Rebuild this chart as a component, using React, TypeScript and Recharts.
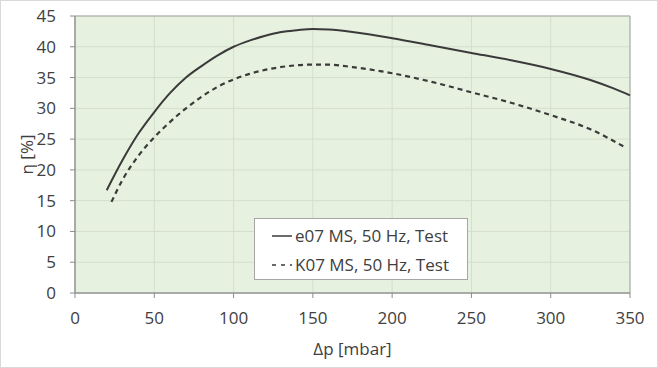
import {
  CartesianGrid,
  Legend,
  Line,
  LineChart,
  ReferenceArea,
  XAxis,
  YAxis,
} from "recharts";

// Δp [mbar] / η [%] for the two pumps
const e07Pressure = [20, 30, 40, 50, 60, 70, 80, 90, 100, 110, 120, 130, 140, 150, 160, 175, 200, 225, 250, 275, 300, 325, 340, 350];
const e07Efficiency = [16.7, 21.6, 25.9, 29.4, 32.5, 35.0, 36.9, 38.6, 40.0, 41.0, 41.8, 42.4, 42.7, 42.9, 42.8, 42.4, 41.4, 40.2, 39.0, 37.8, 36.4, 34.6, 33.2, 32.1];

const k07Pressure = [23, 30, 40, 50, 60, 70, 80, 90, 100, 110, 125, 150, 160, 175, 200, 225, 250, 275, 300, 325, 346];
const k07Efficiency = [14.8, 18.4, 22.3, 25.3, 27.8, 30.0, 31.9, 33.5, 34.7, 35.6, 36.5, 37.1, 37.1, 36.7, 35.7, 34.3, 32.6, 30.9, 28.9, 26.6, 23.8];

const xTicks = [0, 50, 100, 150, 200, 250, 300, 350];
const yTicks = [0, 5, 10, 15, 20, 25, 30, 35, 40, 45];

const seriesNames = ["e07 MS, 50 Hz, Test", "K07 MS, 50 Hz, Test"];

const e07Data = e07Pressure.map((p, i) => ({ p, eta: e07Efficiency[i] }));
const k07Data = k07Pressure.map((p, i) => ({ p, eta: k07Efficiency[i] }));

const FONT = "'Open Sans', sans-serif";
const TEXT = "#404040";
const LINE = "#3a3a3a";

function ChartLegend() {
  return (
    <div
      style={{
        background: "#fff",
        border: "1px solid #a6a6a6",
        width: 214,
        height: 62,
        boxSizing: "border-box",
        fontFamily: FONT,
        fontSize: 17,
        color: TEXT,
        padding: "2px 0 0 16px",
      }}
    >
      {seriesNames.map((name, i) => (
        <div key={name} style={{ display: "flex", alignItems: "center", height: 29 }}>
          <svg width={22} height={10} style={{ marginRight: 2 }}>
            <line
              x1={1}
              x2={21}
              y1={5}
              y2={5}
              stroke={LINE}
              strokeWidth={1.5}
              strokeDasharray={i === 1 ? "4 5" : undefined}
            />
          </svg>
          <span>{name}</span>
        </div>
      ))}
    </div>
  );
}

export default function App() {
  return (
    <div style={{ position: "absolute", left: 0, top: 0, width: 658, height: 368, background: "#fff" }}>
      <LineChart
        width={658}
        height={368}
        margin={{ top: 16, right: 28, bottom: 25, left: 0 }}
      >
        <CartesianGrid stroke="#d3dfcb" fill="#e7f1df" />
        <XAxis
          type="number"
          dataKey="p"
          domain={[0, 350]}
          ticks={xTicks}
          interval={0}
          height={50}
          tickSize={5}
          tickMargin={14}
          stroke="#8c8c8c"
          tick={{ fill: TEXT, fontSize: 17, fontFamily: FONT }}
          label={(props: any) => {
            const vb = props.viewBox;
            return (
              <text
                x={vb.x + vb.width / 2}
                y={vb.y + 62}
                textAnchor="middle"
                fill={TEXT}
                fontSize={17}
                fontFamily={FONT}
              >
                Δp [mbar]
              </text>
            );
          }}
        />
        <YAxis
          type="number"
          domain={[0, 45]}
          ticks={yTicks}
          interval={0}
          width={75}
          tickSize={5}
          tickMargin={14}
          stroke="#8c8c8c"
          tick={{ fill: TEXT, fontSize: 17, fontFamily: FONT }}
          label={(props: any) => {
            const vb = props.viewBox;
            const x = vb.x + 26;
            const y = vb.y + vb.height / 2;
            return (
              <text
                x={x}
                y={y}
                transform={`rotate(-90 ${x} ${y})`}
                textAnchor="middle"
                dominantBaseline="central"
                fill={TEXT}
                fontSize={17}
                fontFamily={FONT}
              >
                η [%]
              </text>
            );
          }}
        />
        <ReferenceArea x1={0} x2={350} y1={0} y2={45} fill="none" stroke="#a6a6a6" />
        <Line
          data={e07Data}
          dataKey="eta"
          name={seriesNames[0]}
          type="monotone"
          stroke={LINE}
          strokeWidth={2}
          dot={false}
          isAnimationActive={false}
        />
        <Line
          data={k07Data}
          dataKey="eta"
          name={seriesNames[1]}
          type="monotone"
          stroke={LINE}
          strokeWidth={2.2}
          strokeDasharray="5 4"
          dot={false}
          isAnimationActive={false}
        />
        <Legend
          content={<ChartLegend />}
          layout="vertical"
          align="center"
          verticalAlign="middle"
          wrapperStyle={{ left: 254, top: 218, width: 214, bottom: "auto" }}
        />
      </LineChart>
      <div
        style={{
          position: "absolute",
          left: 0,
          top: 0,
          width: 658,
          height: 368,
          boxSizing: "border-box",
          border: "1px solid #d9d9d9",
          pointerEvents: "none",
        }}
      />
    </div>
  );
}
